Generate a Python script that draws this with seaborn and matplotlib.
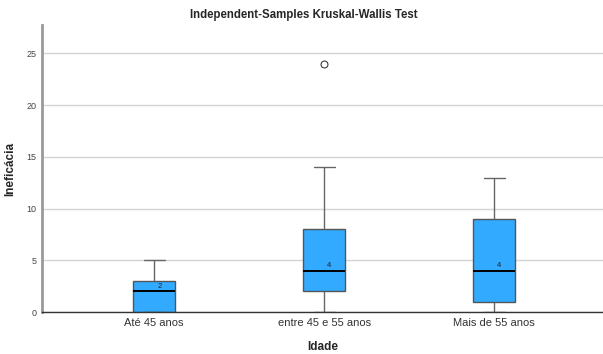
import numpy as np
import pandas as pd
import seaborn as sns
import matplotlib.pyplot as plt

# Dados
grupos = ['Até 45 anos', 'entre 45 e 55 anos', 'Mais de 55 anos']
ate_45 = [0, 0, 0, 0, 2, 2, 3, 3, 3, 5]
entre_45_55 = [0, 1, 2, 2, 3, 4, 4, 5, 8, 8, 10, 14, 24]
mais_55 = [0, 0, 1, 1, 2, 3, 4, 5, 7, 9, 10, 12, 13]
yticks = [0, 5, 10, 15, 20, 25]

df = pd.DataFrame({
    'Idade': [grupos[0]] * len(ate_45) + [grupos[1]] * len(entre_45_55) + [grupos[2]] * len(mais_55),
    'Ineficácia': ate_45 + entre_45_55 + mais_55,
})

sns.set_style('white')
plt.rcParams['font.family'] = ['Liberation Sans', 'DejaVu Sans']

fig = plt.figure(figsize=(6.03, 3.54), dpi=100)
ax = fig.add_axes([42 / 603, 1 - 312 / 354, 1 - 42 / 603, (312 - 25) / 354])

sns.boxplot(data=df, x='Idade', y='Ineficácia', order=grupos, width=0.25,
            color='#31AAFF', saturation=1, linewidth=1, ax=ax,
            boxprops=dict(edgecolor='#555555'),
            whiskerprops=dict(color='#666666'),
            capprops=dict(color='#666666'),
            medianprops=dict(color='black', linewidth=1.4),
            flierprops=dict(marker='o', markerfacecolor='white', markeredgecolor='#222222',
                            markersize=5, markeredgewidth=0.7))

# rótulos das medianas
for i, g in enumerate(grupos):
    med = np.median(df.loc[df['Idade'] == g, 'Ineficácia'])
    ax.text(i + 0.03, med + 0.15, f'{med:g}', ha='center', va='bottom', fontsize=5.5, color='#222222')

ax.set_xlim(-0.66, 2.64)
ax.set_ylim(0, 27.75)
ax.set_yticks(yticks)
ax.yaxis.grid(True, color='#D4D4D4', linewidth=1)
ax.set_axisbelow(True)
ax.tick_params(axis='y', length=0, labelsize=6.5, labelcolor='#444444', pad=4)
ax.tick_params(axis='x', length=0, labelsize=8, labelcolor='#333333', pad=4)

for s in ['top', 'right']:
    ax.spines[s].set_visible(False)
ax.spines['left'].set_color('#999999')
ax.spines['left'].set_linewidth(2)
ax.spines['bottom'].set_color('#333333')
ax.spines['bottom'].set_linewidth(1)

ax.set_xlabel('Idade', fontsize=8.5, fontweight='bold', labelpad=10)
ax.set_ylabel('Ineficácia', fontsize=8.5, fontweight='bold', labelpad=7)
fig.text(304 / 603, 1 - 15 / 354, 'Independent-Samples Kruskal-Wallis Test',
         ha='center', va='center', fontsize=8.3, fontweight='bold')

fig.savefig('out.png', dpi=100)
